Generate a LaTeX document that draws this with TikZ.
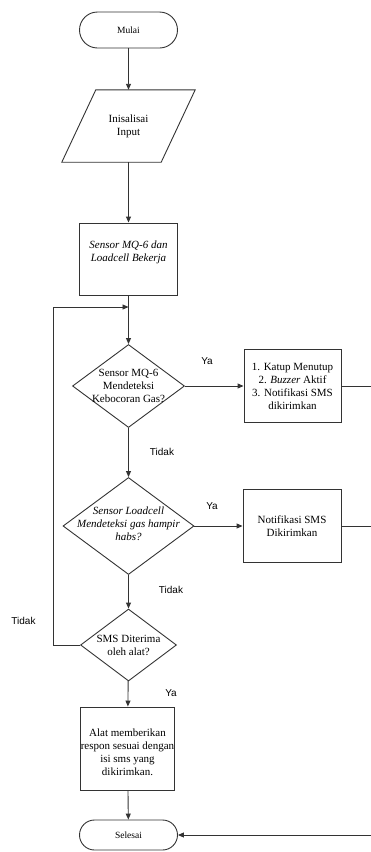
\documentclass[tikz,border=0pt]{standalone}
\usepackage{fontspec}
\setmainfont{Liberation Serif}
\newfontfamily\labelfont{Liberation Sans}
\usetikzlibrary{shapes.geometric,arrows.meta}

\begin{document}
\begin{tikzpicture}[x=1pt,y=-1pt,
  line/.style={draw=black!80, line width=0.9pt},
  flow/.style={line, -{Triangle[length=6pt,width=5pt]}},
  txt/.style={align=center, font=\fontsize{11}{13}\selectfont, inner sep=0pt},
  txti/.style={align=center, font=\fontsize{11}{13}\selectfont\itshape, inner sep=0pt},
  term/.style={line, rectangle, rounded corners=18pt, minimum width=98pt,
    minimum height=36pt, inner sep=0pt, font=\fontsize{9.5}{12}\selectfont},
  procbox/.style={line, rectangle, inner sep=0pt},
  decide/.style={line, diamond, inner sep=0pt},
  lbl/.style={font=\labelfont\fontsize{10}{12}\selectfont, inner sep=0pt},
]
\useasboundingbox (0,0) rectangle (370,852);

% terminals, input and processes
\node[term] (start) at (128.5,30) {Mulai};
\node[txt, minimum width=133pt, minimum height=72pt] (init) at (128.5,126) {Inisalisai\\Input};
\draw[line] (init.south west) -- ([xshift=-34pt]init.south east)
  -- (init.north east) -- ([xshift=34pt]init.north west) -- cycle;

\node[procbox, minimum width=98pt, minimum height=72pt] (work) at (128.5,259) {};
\node[txti] (workt) at (128.5,252.5) {Sensor MQ-6 dan\\Loadcell Bekerja};

\coordinate (join) at (128.5,307);

% decision 1: gas leak
\node[decide, minimum width=112pt, minimum height=83pt] (gas) at (128.5,386) {};
\node[txt] (gast) at (128.5,386) {Sensor MQ-6\\Mendeteksi\\Kebocoran Gas?};
\node[procbox, txt, minimum width=97pt, minimum height=73pt] (alarm) at (292.5,386)
  {1. Katup Menutup\\2. \textit{Buzzer} Aktif\\3. Notifikasi SMS\\dikirimkan};

% decision 2: gas almost empty
\node[decide, minimum width=131pt, minimum height=97pt] (load) at (128.5,526) {};
\node[txti] (loadt) at (128.5,524) {Sensor Loadcell\\Mendeteksi gas hampir\\habs?};
\node[procbox, txt, minimum width=98pt, minimum height=73pt] (notif) at (292,526)
  {Notifikasi SMS\\Dikirimkan};

% decision 3: SMS received
\node[decide, minimum width=96pt, minimum height=72pt] (sms) at (128.5,645) {};
\node[txt] (smst) at (128.5,645) {SMS Diterima\\oleh alat?};

\node[procbox, minimum width=94pt, minimum height=83pt] (resp) at (127.5,748.5) {};
\node[txt] (respt) at (127.5,752.5)
  {Alat memberikan\\respon sesuai dengan\\isi sms yang\\dikirimkan.};
\node[term, minimum height=30pt, rounded corners=15pt] (stop) at (128.5,835) {Selesai};

% routing points
\coordinate (loopbot) at (53,645);
\coordinate (looptop) at (53,307);
\coordinate (r1) at (371,386);
\coordinate (r2) at (371,526);
\coordinate (r3) at (371,835);

% connectors
\draw[flow] (start) -- (init);
\draw[flow] (init) -- (work);
\draw[flow] (work) -- (gas);
\draw[flow] (gas) -- (alarm);
\draw[flow] (gas) -- (load);
\draw[flow] (load) -- (notif);
\draw[flow] (load) -- (sms);
\draw[flow] (sms) -- (resp);
\draw[flow] (resp) -- (stop);
\draw[flow] (sms.west) -- (loopbot) -- (looptop) -- (join);
\draw[line] (alarm.east) -- (r1) -- (r3);
\draw[line] (notif.east) -- (r2);
\draw[flow] (r3) -- (stop.east);

% branch labels
\node[lbl] (ya1) at (207,361) {Ya};
\node[lbl] (tidak1) at (162,452) {Tidak};
\node[lbl] (ya2) at (212,506) {Ya};
\node[lbl] (tidak2) at (171,590) {Tidak};
\node[lbl] (tidak3) at (23.5,621) {Tidak};
\node[lbl] (ya3) at (171,693) {Ya};
\end{tikzpicture}
\end{document}
